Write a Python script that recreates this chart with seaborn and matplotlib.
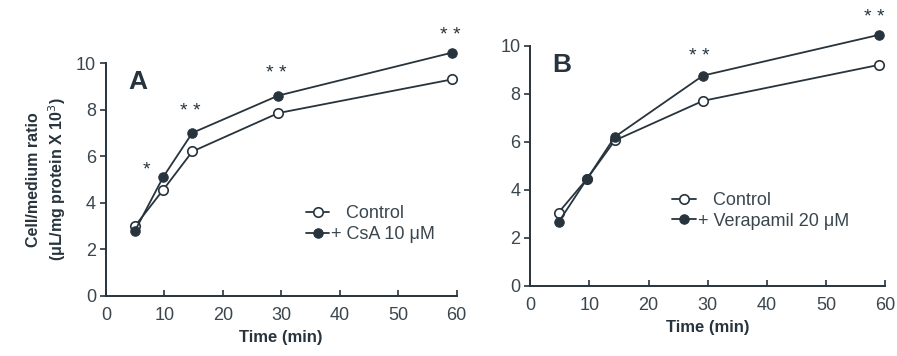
import matplotlib
matplotlib.use("Agg")
import matplotlib.pyplot as plt
import seaborn as sns
import pandas as pd

# Panel A data
time_a = [5, 9.8, 14.8, 29.5, 59.3]
control_a = [3.0, 4.55, 6.2, 7.85, 9.3]
csa_a = [2.8, 5.1, 7.0, 8.6, 10.45]

# Panel B data
time_b = [4.8, 9.6, 14.3, 29.2, 59.0]
control_b = [3.05, 4.45, 6.05, 7.7, 9.2]
verap_b = [2.65, 4.45, 6.2, 8.75, 10.45]

# significance markers (x, y, text)
stars_a_x = [7.0, 14.5, 29.2, 59.0]
stars_a_y = [5.4, 7.9, 9.55, 11.2]
stars_a_t = ["*", "* *", "* *", "* *"]
stars_b_x = [28.6, 58.2]
stars_b_y = [9.55, 11.15]
stars_b_t = ["* *", "* *"]

xticks = [0, 10, 20, 30, 40, 50, 60]
yticks = [0, 2, 4, 6, 8, 10]

sns.set_theme(style="ticks")
plt.rcParams['font.family'] = ['Liberation Sans', 'DejaVu Sans']
C = '#27343d'
TC = '#3a464e'

fig = plt.figure(figsize=(8.97, 3.56), dpi=100)
axA = fig.add_axes([0.118, 0.169, 0.391, 0.654])
axB = fig.add_axes([0.591, 0.197, 0.396, 0.675])


def draw(ax, t, ctrl, trt, trt_label, letter, sx, sy, st, leg_anchor):
    df = pd.DataFrame({"t": t, "ctrl": ctrl, "trt": trt})
    sns.lineplot(data=df, x="t", y="ctrl", ax=ax, color=C, lw=1.3, marker='o',
                 markersize=6.8, markerfacecolor='white', markeredgecolor=C,
                 markeredgewidth=1.2, clip_on=False, label="   Control")
    sns.lineplot(data=df, x="t", y="trt", ax=ax, color=C, lw=1.3, marker='o',
                 markersize=6.8, markerfacecolor=C, markeredgecolor=C,
                 clip_on=False, label=trt_label)
    ax.set_xlim(0, 60)
    ax.set_ylim(0, 10)
    ax.set_xticks(xticks)
    ax.set_yticks(yticks)
    for s in ['top', 'right']:
        ax.spines[s].set_visible(False)
    for s in ['left', 'bottom']:
        ax.spines[s].set_color(C)
        ax.spines[s].set_linewidth(1.4)
    ax.tick_params(axis='x', direction='in', length=4, width=1.2, colors=C,
                   labelsize=13, pad=8, labelcolor=TC)
    ax.tick_params(axis='y', direction='out', length=4, width=1.2, colors=C,
                   labelsize=13, pad=3, labelcolor=TC)
    ax.set_xlabel("Time (min)", fontsize=12, fontweight='bold', color=C, labelpad=4)
    ax.set_ylabel("")
    ax.text(3.8, 9.2, letter, fontsize=19, fontweight='bold', color=C, va='center')
    for x, y, s in zip(sx, sy, st):
        ax.text(x, y, s, fontsize=14, color=C, ha='center', va='center')
    leg = ax.legend(loc='upper left', bbox_to_anchor=leg_anchor, frameon=False,
                    fontsize=13, handlelength=1.3, handletextpad=0.1,
                    labelspacing=0.2, borderaxespad=0)
    for txt in leg.get_texts():
        txt.set_color(TC)


draw(axA, time_a, control_a, csa_a, "+ CsA 10 μM", "A",
     stars_a_x, stars_a_y, stars_a_t, (0.55, 0.42))
draw(axB, time_b, control_b, verap_b, "+ Verapamil 20 μM", "B",
     stars_b_x, stars_b_y, stars_b_t, (0.38, 0.42))

axA.set_ylabel("Cell/medium ratio\n(μL/mg protein X 10$^3$)", fontsize=11.5,
               fontweight='bold', color=C, labelpad=6, linespacing=1.3)

fig.savefig("out.png", dpi=100, facecolor='white')
